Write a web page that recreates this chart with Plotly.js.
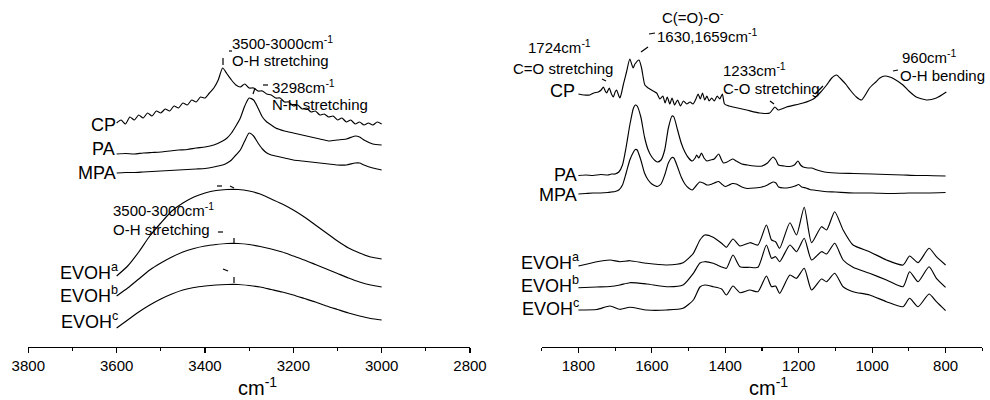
<!DOCTYPE html>
<html><head><meta charset="utf-8">
<script src="https://cdn.plot.ly/plotly-3.0.1.min.js"></script>
<style>body{margin:0;background:#fff}#g{width:990px;height:400px}</style>
</head><body><div id="g"></div>
<script>
// ---------- Left panel: 3600-3000 cm-1 (intensity, a.u., stacked offsets) ----------
const L_CP_wn = [3600,3590,3580,3570,3560,3550,3540,3530,3520,3510,3500,3490,3480,3470,3460,3450,3440,3430,3420,3410,3400,3390,3380,3370,3360,3350,3340,3330,3320,3310,3300,3290,3280,3270,3260,3250,3240,3230,3220,3210,3200,3190,3180,3170,3160,3150,3140,3130,3120,3110,3100,3090,3080,3070,3060,3050,3040,3030,3020,3010,3000];
const L_CP = [224,227,223,230,227,232,229,234,231,236,234,238,236,241,239,244,242,247,245,250,249,254,259,267,279,273,267,262,260,263,259,259,256,256,253,252,249,249,245,245,241,242,238,239,235,236,232,233,230,231,227,229,225,227,223,225,222,224,222,225,223];

const L_PA_wn = [3600,3580,3560,3540,3520,3500,3480,3460,3440,3420,3400,3380,3360,3350,3340,3330,3320,3310,3300,3290,3280,3270,3260,3250,3240,3220,3200,3180,3160,3140,3120,3100,3080,3060,3050,3040,3020,3000];
const L_PA  = [193,193.5,193,194,194.5,195,196,197,197.5,199,200,202,206,209,214,221,229,241,249,247,239,230,225,222,219,216,214,212,210,208,206,207,208,211,210,207,203,202];
const L_MPA = [174,174.5,174.5,175,175.5,176,176.5,177,177.5,178,178.5,180,182,184,187,192,197,206,214,211,204,198,194,192,191,189,187,186,185,184,183,182,182,184,184,182,179,177];

const L_EV_wn = [3600,3575,3550,3525,3500,3475,3450,3425,3400,3375,3350,3325,3300,3275,3250,3225,3200,3175,3150,3125,3100,3075,3050,3025,3000];
const L_EVa = [71,81,95,111,124,136,144,150,154,156.5,157.5,157.5,156,153,148,143,137,130,122,114,106,99,94,90,88];
const L_EVb = [51,59,68,77,84,90,95,98.5,101,102.5,103.5,103.5,102.5,100.5,98,95,91,87,82.5,78,73.5,69,65,62,60];
const L_EVc = [19,27,35,42,48,53,57,59.5,61,62,62.5,62.5,61.5,60,57.5,55,52,48.5,45,41,37.5,34,31,28.5,27];

// ---------- Right panel: 1800-800 cm-1 ----------
const R_CP_wn = [1800,1785,1769,1758,1746,1738,1732,1727,1723,1716,1710,1705,1700,1696,1690,1687,1682,1678,1669,1660,1651,1646,1635,1628,1619,1610,1601,1587,1578,1570,1564,1558,1551,1545,1538,1530,1522,1514,1505,1496,1488,1480,1474,1468,1462,1456,1450,1444,1437,1430,1422,1415,1408,1402,1390,1379,1342,1306,1279,1265,1256,1233,1188,1160,1140,1124,1110,1097,1085,1070,1060,1043,1029,1007,990,979,965,952,940,916,900,880,852,825,798];
const R_CP = [253,252,252,254,255,257,260,256,254,259,253,250,255,257,251,249,255,262,275,288,279,283,287,279,262,259,257,254,248,251,244,250,243,249,242,247,241,246,243,245,243,248,253,248,254,247,251,246,249,246,251,248,253,243,241,240,237,234,234,240,237,240,244,248,255,262,269,272,268,262,257,250,247,259,265,269,271,270,268,262,256,250,247,249,255];

const R_PA_wn = [1800,1780,1760,1740,1720,1710,1700,1690,1680,1670,1660,1650,1645,1640,1630,1620,1610,1600,1590,1585,1575,1565,1555,1545,1540,1530,1520,1510,1500,1490,1482,1478,1472,1465,1458,1450,1440,1430,1418,1410,1405,1395,1380,1370,1355,1340,1320,1300,1285,1270,1262,1255,1240,1225,1212,1202,1195,1188,1175,1165,1150,1130,1100,1050,1000,960,916,880,850,800];
const R_PA = [171.5,172,171.5,172.5,172,173,173,175,182,200,222,239,242,241,230,210,197,190,186,185,187,197,219,231,230,217,204,195,189,186,189,192,189,194,189,186,187,188,193,187,184,185,188,186,183,182,181,181,184,190,187,182,181,180.5,182,186,182,180,179,179,177,175,174,173.5,173,172.5,172,171.5,171.5,171];

const R_MPA_wn = [1800,1780,1760,1740,1720,1710,1700,1690,1680,1670,1660,1650,1645,1640,1630,1620,1610,1600,1590,1585,1575,1565,1555,1545,1540,1530,1520,1510,1500,1490,1480,1470,1460,1450,1440,1430,1418,1410,1400,1390,1380,1370,1355,1340,1320,1300,1285,1270,1262,1255,1240,1225,1210,1200,1192,1180,1170,1150,1130,1100,1050,1000,950,900,850,800];
const R_MPA = [153,153.5,154,154,154.5,155,155.5,157,162,174,187,195,197.5,197,187,174,167,163,161,160.5,163,172,184,189.5,189,180,170,163,159,157,161,165,164,162,162.5,164,165.5,163,160.5,162,163.5,163,160,158.5,159,160,162,165,164,160,159,159.5,161,162.5,160,159,157.5,156.5,155.5,155,154,154,153.5,154,154,154.5];

const R_EV_wn = [1800,1750,1714,1687,1660,1614,1560,1515,1487,1469,1456,1433,1410,1397,1379,1360,1333,1311,1288,1274,1263,1252,1224,1206,1185,1165,1138,1124,1102,1079,1052,1007,961,916,898,875,845,825,800];
const R_EVa = [81,85.3,87,85.3,86.3,83.7,82,84.3,93.7,107,112,109.7,103.7,99.7,108,101,104.3,102,122,107,105.3,98.7,124.3,112,139.7,104.3,120.3,117,135.3,117,102,95.3,87,82,91,84.3,98.7,90.3,82];
const R_EVb = [59.3,60,60.5,62,64.3,63,60.3,62,73.7,84,85.3,83.7,80,78.7,92,80.3,79.7,79.7,102,88.7,90.3,85.3,102,95.3,108.7,87,95.3,93,103.7,87,79.7,73.7,67,60.3,75.3,65.3,80.3,68.7,59.7];
const R_EVc = [37,37.5,41,37.7,39.7,37,37,38.7,47,60,62,60.3,58,52,61,54.3,57,55.3,71,60.3,61,53.7,72,68.7,78.7,57,68,65.3,73.7,60.3,55.3,52,45.3,40.3,48.7,40.3,53,45.3,36.3];

const L_TICKS = [3800,3600,3400,3200,3000,2800];
const R_TICKS = [1800,1600,1400,1200,1000,800];

// ---------- build ----------
const FONT = 'Liberation Sans, Arial, sans-serif';
const W = 990, PH = 347;
function tr(x, y, xa){ return {x:x, y:y, xaxis:xa, yaxis:'y', type:'scatter', mode:'lines',
  line:{color:'#000', width:1.15, shape:'spline', smoothing:0.6}, hoverinfo:'skip', showlegend:false}; }

const data = [
  tr(L_CP_wn, L_CP, 'x'), tr(L_PA_wn, L_PA, 'x'), tr(L_PA_wn, L_MPA, 'x'),
  tr(L_EV_wn, L_EVa, 'x'), tr(L_EV_wn, L_EVb, 'x'), tr(L_EV_wn, L_EVc, 'x'),
  tr(R_CP_wn, R_CP, 'x2'), tr(R_PA_wn, R_PA, 'x2'), tr(R_MPA_wn, R_MPA, 'x2'),
  tr(R_EV_wn, R_EVa, 'x2'), tr(R_EV_wn, R_EVb, 'x2'), tr(R_EV_wn, R_EVc, 'x2')
];

function ann(text, px, py, xa, size){
  return {text:text, xref:'paper', yref:'paper', x:px/W, y:(PH-py)/PH, xanchor:xa, yanchor:'middle',
    showarrow:false, borderpad:0, font:{family:FONT, size:size, color:'#000'}};
}
const S1 = 18, S2 = 15;
const annotations = [
  // curve labels
  ann('CP', 117, 125, 'right', S1), ann('PA', 116, 149, 'right', S1), ann('MPA', 117, 173, 'right', S1),
  ann('EVOH<sup>a</sup>', 119, 271, 'right', S1), ann('EVOH<sup>b</sup>', 119, 294, 'right', S1), ann('EVOH<sup>c</sup>', 119, 320, 'right', S1),
  ann('CP', 576, 91, 'right', S1), ann('PA', 578, 175, 'right', S1), ann('MPA', 578, 195, 'right', S1),
  ann('EVOH<sup>a</sup>', 580, 261, 'right', S1), ann('EVOH<sup>b</sup>', 580, 284, 'right', S1), ann('EVOH<sup>c</sup>', 580, 307, 'right', S1),
  // band annotations
  ann('3500-3000cm<sup>-1</sup>', 231, 42, 'left', S2), ann('O-H stretching', 231, 61, 'left', S2),
  ann('3298cm<sup>-1</sup>', 271, 86, 'left', S2), ann('N-H stretching', 271, 105, 'left', S2),
  ann('3500-3000cm<sup>-1</sup>', 112, 210, 'left', S2), ann('O-H stretching', 112, 229, 'left', S2),
  ann('C(=O)-O<sup>-</sup>', 661, 17, 'left', S2), ann('1630,1659cm<sup>-1</sup>', 656, 35, 'left', S2),
  ann('1724cm<sup>-1</sup>', 527, 46, 'left', S2), ann('C=O stretching', 512, 68, 'left', S2),
  ann('1233cm<sup>-1</sup>', 722, 69, 'left', S2), ann('C-O stretching', 722, 88, 'left', S2),
  ann('960cm<sup>-1</sup>', 901, 56, 'left', S2), ann('O-H bending', 899, 75, 'left', S2),
  // axis titles
  ann('cm<sup>-1</sup>', 257, 386, 'center', 20), ann('cm<sup>-1</sup>', 768, 386, 'center', 20)
];

// small leader marks of the original figure
const marks = [
  [223,58,223,65],[229,51,232,51],[263,85,268,85],[253,94,255,88],
  [217,186,222,186],[230,186,234,188],[218,232,223,232],[234,238,234,243],
  [223,269,228,271],[234,277,234,283],
  [641,52,648,47],[649,34,655,33],[602,79,606,81],[770,101,774,104],[815,94,823,86],[893,71,898,70]
];
const shapes = marks.map(m => ({type:'line', xref:'paper', yref:'paper',
  x0:m[0]/W, y0:(PH-m[1])/PH, x1:m[2]/W, y1:(PH-m[3])/PH, line:{color:'#000', width:1.2}}));

function xax(dom, rng, ticks){
  return {domain:dom, range:rng, anchor:'y', tickmode:'array', tickvals:ticks, ticktext:ticks.map(String),
    ticks:'outside', ticklen:5, tickwidth:1.2, tickcolor:'#000', showline:true, linecolor:'#000', linewidth:1.3,
    showgrid:false, zeroline:false, tickfont:{family:FONT, size:15, color:'#000'},
    minor:{tickmode:'linear', dtick:100, ticks:'outside', ticklen:3, tickwidth:1.2, tickcolor:'#000', showgrid:false}};
}

const layout = {
  width:990, height:400, margin:{l:0, r:0, t:0, b:53, pad:0},
  paper_bgcolor:'#fff', plot_bgcolor:'#fff', showlegend:false,
  xaxis: xax([28.3/W, 470/W], [3800, 2800], L_TICKS),
  xaxis2: xax([541.7/W, 982.3/W], [1900, 700], R_TICKS),
  yaxis: {domain:[0,1], range:[0, PH], visible:false, fixedrange:true},
  annotations: annotations, shapes: shapes
};
Plotly.newPlot('g', data, layout, {staticPlot:true, displayModeBar:false});
</script></body></html>
